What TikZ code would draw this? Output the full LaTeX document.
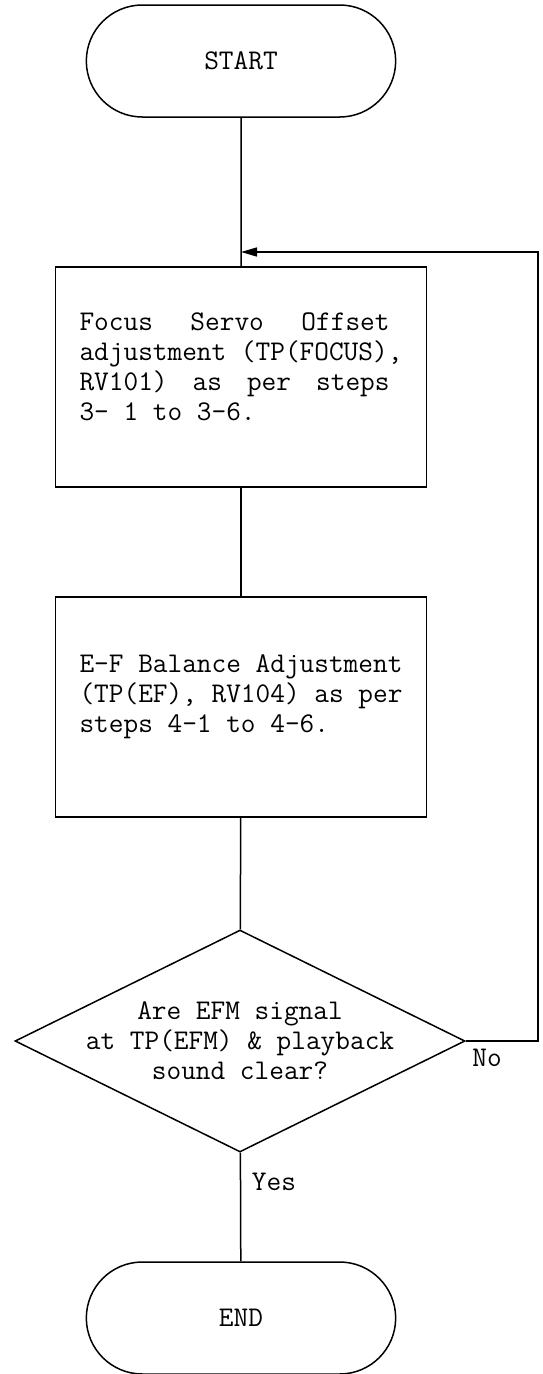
\documentclass[tikz,border=0pt]{standalone}
\usetikzlibrary{arrows.meta,shapes.geometric,shapes.misc}

\newcommand{\spreadline}[2]{\makebox[#1][l]{#2}}

\begin{document}
\begin{tikzpicture}[x=1pt,y=-1pt,>={Triangle[length=16pt,width=9pt]}]
			\tikzstyle{every node} = [font=\ttfamily\fontsize{28.5}{30}\selectfont];
			\tikzstyle{terminal} = [rounded rectangle,draw=black,line width=1.5pt,minimum width=316pt,minimum height=112pt];
			\tikzstyle{process} = [rectangle,draw=black,line width=1.5pt,minimum width=371pt,minimum height=220pt,align=left,inner sep=0pt];
			\tikzstyle{decision} = [diamond,draw=black,line width=1.5pt,minimum width=450pt,minimum height=222pt,inner sep=0pt];
			\tikzstyle{flow} = [line width=1.5pt];
			\useasboundingbox (0,0) rectangle (542,1374);
			\node[terminal] (start) at (241,61) {START};
			\node[process] (offset) at (241,377) {\spreadline{310pt}{Focus\hfill Servo\hfill Offset}\\adjustment (TP(FOCUS),\\\spreadline{310pt}{RV101)\hfill as\hfill per\hfill steps}\\3- 1 to 3-6.\\[-10pt]};
			\node[process] (balance) at (241,707) {E-F Balance Adjustment\\(TP(EF), RV104) as per\\steps 4-1 to 4-6.\\[-4pt]};
			\node[decision] (check) at (240,1041) {};
			\node[align=center] (checktext) at (check.center) {Are EFM signal\\at TP(EFM) \& playback\\sound clear?};
			\node[terminal] (end) at (241,1318) {END};
			\node (no) at (487,1058) {No};
			\node (yes) at (274,1182) {Yes};
			\coordinate (join) at (241,252);
			\coordinate (loopb) at (538,1041);
			\coordinate (loopt) at (538,252);
			\draw[flow] (start) -- (offset);
			\draw[flow] (offset) -- (balance);
			\draw[flow] (balance) -- (check);
			\draw[flow] (check) -- (end);
			\draw[flow,->] (check.east) -- (loopb) -- (loopt) -- (join);
		\end{tikzpicture}
\end{document}
